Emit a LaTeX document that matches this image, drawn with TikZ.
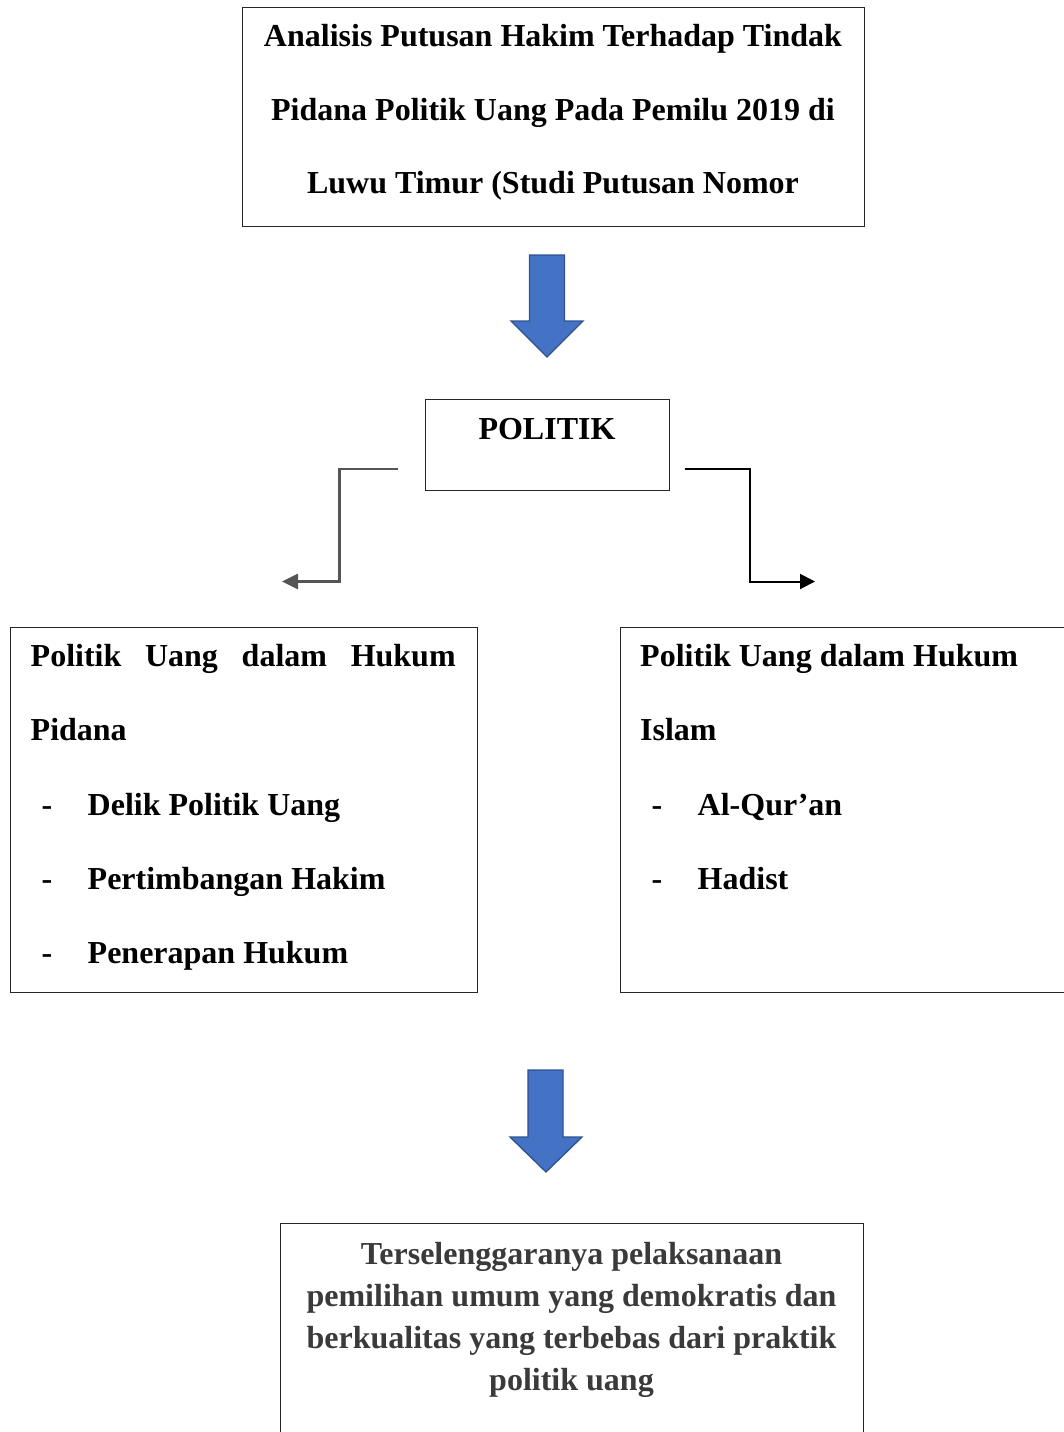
\documentclass[tikz,border=0pt]{standalone}
\usepackage{fontspec}
\setmainfont{Liberation Serif}
\usetikzlibrary{arrows.meta}
\definecolor{arrowblue}{HTML}{4472C4}
\definecolor{arrowedge}{HTML}{2F528F}
\definecolor{conngray}{HTML}{555555}
\definecolor{bottomtext}{HTML}{3A3A3A}
\begin{document}
\begin{tikzpicture}[x=1pt,y=-1pt,
  box/.style={draw=black!85,line width=1.2pt,rectangle,inner sep=0pt,anchor=north west},
  txt/.style={inner sep=0pt,font=\fontsize{32}{38}\selectfont\bfseries},
  blockarrow/.style={fill=arrowblue,draw=arrowedge,line width=1.3pt,line join=miter},
  connleft/.style={draw=conngray,line width=2.7pt,-{Triangle[length=16pt,width=15pt]}},
  connright/.style={draw=black,line width=2pt,-{Triangle[length=15pt,width=15pt]}}]
\useasboundingbox (0,0) rectangle (1064,1432);
\clip (0,0) rectangle (1064,1432);

% title box
\node[box,minimum width=622pt,minimum height=219pt] (title) at (242,7) {};
\node[txt,anchor=base] (t1) at (553,46) {Analisis Putusan Hakim Terhadap Tindak};
\node[txt,anchor=base] (t2) at (553,120) {Pidana Politik Uang Pada Pemilu 2019 di};
\node[txt,anchor=base] (t3) at (553,193) {Luwu Timur (Studi Putusan Nomor};

% first block arrow
\draw[blockarrow] (529.5,255) -- (564.5,255) -- (564.5,321) -- (583,321) -- (547,357) -- (511,321) -- (529.5,321) -- cycle;

% POLITIK box
\node[box,minimum width=244pt,minimum height=91pt] (pol) at (425,399) {};
\node[txt,anchor=base] (polt) at (547,439) {POLITIK};

% connectors
\coordinate (ls) at (397.5,469);
\coordinate (le) at (282,581.5);
\coordinate (rs) at (684.5,469);
\coordinate (re) at (815,581.5);
\draw[connleft] (ls) -- (339.5,469) |- (le);
\draw[connright] (rs) -- (749.5,469) |- (re);

% left box
\node[box,minimum width=467pt,minimum height=365pt] (lbox) at (10,627) {};
\node[txt,anchor=base west] (l1) at (30.5,666) {\makebox[425pt][l]{Politik\hfill Uang\hfill dalam\hfill Hukum}};
\node[txt,anchor=base west] (l2) at (30.5,740) {Pidana};
\node[txt,anchor=base west] (ld1) at (41.5,815) {-};
\node[txt,anchor=base west] (l3) at (87.5,815) {Delik Politik Uang};
\node[txt,anchor=base west] (ld2) at (41.5,889) {-};
\node[txt,anchor=base west] (l4) at (87.5,889) {Pertimbangan Hakim};
\node[txt,anchor=base west] (ld3) at (41.5,963) {-};
\node[txt,anchor=base west] (l5) at (87.5,963) {Penerapan Hukum};

% right box
\node[box,minimum width=500pt,minimum height=365pt] (rbox) at (620,627) {};
\node[txt,anchor=base west] (r1) at (640,666) {Politik Uang dalam Hukum};
\node[txt,anchor=base west] (r2) at (640,740) {Islam};
\node[txt,anchor=base west] (rd1) at (651.5,815) {-};
\node[txt,anchor=base west] (r3) at (697.5,815) {Al-Qur’an};
\node[txt,anchor=base west] (rd2) at (651.5,889) {-};
\node[txt,anchor=base west] (r4) at (697.5,889) {Hadist};

% second block arrow
\draw[blockarrow] (528,1070) -- (563,1070) -- (563,1137) -- (582,1137) -- (546,1172) -- (510,1137) -- (528,1137) -- cycle;

% bottom box
\node[box,minimum width=583pt,minimum height=300pt] (bbox) at (280,1223) {};
\node[txt,anchor=base,text=bottomtext] (b1) at (571.5,1264) {Terselenggaranya pelaksanaan};
\node[txt,anchor=base,text=bottomtext] (b2) at (571.5,1306) {pemilihan umum yang demokratis dan};
\node[txt,anchor=base,text=bottomtext] (b3) at (571.5,1348) {berkualitas yang terbebas dari praktik};
\node[txt,anchor=base,text=bottomtext] (b4) at (571.5,1390) {politik uang};
\end{tikzpicture}
\end{document}
